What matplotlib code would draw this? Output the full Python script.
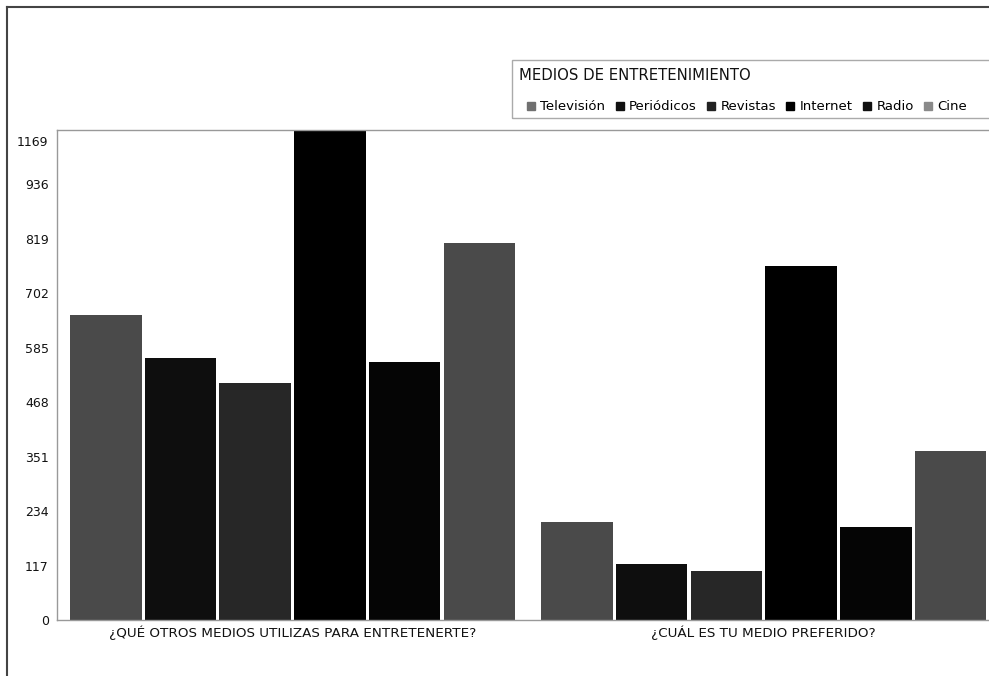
"""
Medios de entretenimiento: grouped bars for two survey questions.
"""

import matplotlib
matplotlib.use('Agg')
import matplotlib.pyplot as plt  # pylint: disable=import-error
from matplotlib.lines import Line2D
from matplotlib.patches import Rectangle

questions = ['¿QUÉ OTROS MEDIOS UTILIZAS PARA ENTRETENERTE?',
             '¿CUÁL ES TU MEDIO PREFERIDO?']
media = ['Televisión', 'Periódicos', 'Revistas', 'Internet', 'Radio', 'Cine']

# one list per medium: [otros medios, medio preferido]
television = [655, 211]
periodicos = [562, 120]
revistas = [509, 105]
internet = [1169, 761]
radio = [554, 199]
cine = [810, 364]

tick_values = [0, 117, 234, 351, 468, 585, 702, 819, 936, 1030]
tick_labels = ['0', '117', '234', '351', '468', '585', '702', '819', '936', '1169']

bar_colors = ['#4a4a4a', '#0e0e0e', '#272727', '#000000', '#050505', '#4a4a4a']
legend_colors = ['#707070', '#111111', '#222222', '#000000', '#111111', '#8a8a8a']


def main():
    plt.rcParams['font.family'] = ['DejaVu Sans']
    fig = plt.figure(figsize=(9.89, 6.76), dpi=100)
    W, H = 989., 676.
    ax = fig.add_axes([57 / W, 1 - 620 / H, 1 - 57 / W, (620 - 130) / H])

    series = [television, periodicos, revistas, internet, radio, cine]
    step = 74.7 / 471
    width = 71.5 / 471
    for k, (vals, col) in enumerate(zip(series, bar_colors)):
        xs = [g + (k - 2.5) * step for g in range(len(questions))]
        ax.bar(xs, vals, width=width, color=col, zorder=2)

    ax.set_xlim(-0.5, 1.478)
    ax.set_ylim(0, 1053)
    ax.set_yticks(tick_values)
    ax.set_yticklabels(tick_labels, fontsize=9, color='#111111')
    ax.set_xticks(range(len(questions)))
    ax.set_xticklabels(questions, fontsize=9.7, color='#111111')
    ax.tick_params(axis='y', length=0, pad=6)
    ax.tick_params(axis='x', length=0, pad=4)
    for side in ['left', 'bottom', 'top']:
        ax.spines[side].set_color('#999999')
        ax.spines[side].set_linewidth(1)
    ax.spines['right'].set_visible(False)

    # outer frame (top and left only)
    fig.add_artist(Line2D([7 / W, 1], [1 - 7 / H, 1 - 7 / H],
                          transform=fig.transFigure, color='#444444', lw=1.5))
    fig.add_artist(Line2D([7 / W, 7 / W], [0, 1 - 7 / H],
                          transform=fig.transFigure, color='#444444', lw=1.5))

    # legend box
    fig.add_artist(Rectangle((512 / W, 1 - 118 / H), 0.6, 58 / H,
                             transform=fig.transFigure, fill=False,
                             edgecolor='#aaaaaa', lw=1))
    fig.text(519 / W, 1 - 75 / H, 'MEDIOS DE ENTRETENIMIENTO',
             fontsize=10.7, va='center', ha='left', color='#111111')
    handles = [Line2D([], [], marker='s', ls='none', markersize=5.5,
                      color=c, label=m) for m, c in zip(media, legend_colors)]
    fig.legend(handles=handles, ncol=6, frameon=False, fontsize=9.5,
               loc='center left', bbox_to_anchor=(527 / W, 1 - 107 / H),
               handlelength=0.6, handletextpad=0.4, columnspacing=0.8,
               borderpad=0, borderaxespad=0)

    fig.savefig('out.png', dpi=100)


if __name__ == "__main__":
    main()
